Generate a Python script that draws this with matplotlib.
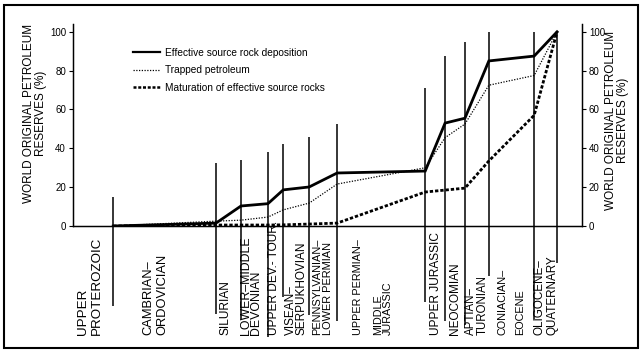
import matplotlib
matplotlib.use("Agg")
import matplotlib.pyplot as plt
from matplotlib.lines import Line2D
from matplotlib.patches import Rectangle

plt.rcParams['font.family'] = ['Liberation Sans', 'DejaVu Sans']

# stage boundaries along the (non-linear) time axis, 0..100 relative scale
boundaries = [7.9, 28.1, 33.0, 38.3, 41.3, 46.4, 51.9, 69.2, 73.1, 77.0, 81.7, 90.6, 95.1]
# cumulative world original petroleum reserves (%) at each boundary
effective = [0, 1.5, 10.3, 11.5, 18.6, 20.1, 27.3, 28.3, 53, 55.5, 85, 87.5, 100]
trapped = [0, 2.5, 3.0, 4.6, 8.3, 11.8, 21.6, 30, 45.5, 52.5, 72.5, 77.5, 100]
maturation = [0, 0.5, 0.5, 0.5, 0.6, 1.0, 1.5, 17.5, 18.5, 19.5, 33.5, 57, 100]
# extent of the boundary rules (upper end above axis, lower end into label area)
rule_top = [15, 32.5, 34, 38, 42, 46, 52.5, 71, 87.5, 95, 100, 100, 100]
rule_bottom = [-41, -45.5, -48, -57, -36.5, -46, -49, -39, -49, -51, -26, -48, -19]

stages = ["UPPER\nPROTEROZOIC", "CAMBRIAN–\nORDOVICIAN", "SILURIAN",
          "LOWER–MIDDLE\nDEVONIAN", "UPPER DEV.- TOUR.", "VISEAN–\nSERPUKHOVIAN",
          "PENNSYLVANIAN–\nLOWER PERMIAN", "UPPER PERMIAN–\n\nMIDDLE\nJURASSIC",
          "UPPER JURASSIC", "NEOCOMIAN", "APTIAN–\nTURONIAN", "CONIACIAN–\n\nEOCENE",
          "OLIGOCENE–\nQUATERNARY"]
# per-label type size, line spacing and small horizontal nudge (as set in the original)
stage_size = [9.6, 9.3, 8.6, 8.9, 8.6, 8.5, 7.9, 7.8, 8.6, 8.5, 8.3, 7.8, 8.4]
stage_spacing = [1.19, 1.23, 1.0, 0.85, 1.0, 0.8, 1.12, 0.97, 1.0, 1.0, 0.92, 0.86, 1.09]
stage_shift = [-0.7, -1.8, -0.5, -0.7, -0.3, 0, -0.2, -1.6, 0.2, 0, 0, 0, 0]
yticks = [0, 20, 40, 60, 80, 100]

W, H = 643, 360
fig = plt.figure(figsize=(W / 100, H / 100), dpi=100)
ax = fig.add_axes([73 / W, (H - 226) / H, (582 - 73) / W, 0.561])
ax.set_xlim(0, 100)
ax.set_ylim(0, 104)
ax.spines['top'].set_visible(False)
for s in ['left', 'right', 'bottom']:
    ax.spines[s].set_linewidth(1.0)
ax.set_xticks([])
ax.set_yticks(yticks)
ax.tick_params(axis='y', direction='out', length=3, width=0.8, labelsize=7, pad=2)

ax2 = ax.twinx()
ax2.set_ylim(0, 104)
ax2.spines['top'].set_visible(False)
ax2.set_yticks(yticks)
ax2.tick_params(axis='y', direction='out', length=3, width=0.8, labelsize=7, pad=2)

ax.vlines(boundaries, rule_bottom, rule_top, colors='black', lw=1.1, clip_on=False, zorder=2)

ax.plot(boundaries, effective, color='black', lw=2.0, zorder=4, solid_joinstyle='miter')
ax.plot(boundaries, trapped, color='black', lw=0.9, ls=(0, (1, 1.2)), zorder=3)
ax.plot(boundaries, maturation, color='black', lw=2.0, ls=(0, (1.2, 0.7)), zorder=4)

edges = [0] + boundaries
for i, lab in enumerate(stages):
    xm = (edges[i] + edges[i + 1]) / 2 + stage_shift[i]
    ax.text(xm, -56, lab, rotation=90, ha='center', va='bottom',
            multialignment='left', fontsize=stage_size[i],
            linespacing=stage_spacing[i], clip_on=False)

handles = [Line2D([], [], color='black', lw=1.6),
           Line2D([], [], color='black', lw=0.9, ls=(0, (1, 1.2))),
           Line2D([], [], color='black', lw=1.8, ls=(0, (1.2, 0.7)))]
labels = ["Effective source rock deposition", "Trapped petroleum",
          "Maturation of effective source rocks"]
ax.legend(handles, labels, loc='upper left', bbox_to_anchor=(133 / W, (H - 48) / H),
          bbox_transform=fig.transFigure, frameon=False, fontsize=7.3,
          handlelength=2.7, handletextpad=0.5, labelspacing=0.72,
          borderpad=0, borderaxespad=0)

ylab = "WORLD ORIGINAL PETROLEUM\nRESERVES (%)"
fig.text(35 / W, (H - 113) / H, ylab, rotation=90, ha='center', va='center',
         multialignment='center', fontsize=8.5, linespacing=1.1)
fig.text(617 / W, (H - 120) / H, ylab, rotation=90, ha='center', va='center',
         multialignment='center', fontsize=8.5, linespacing=1.1)

fig.patches.append(Rectangle((4 / W, 12 / H), 634 / W, 343 / H, transform=fig.transFigure,
                             fill=False, lw=1.5, edgecolor='black'))

fig.savefig("out.png", dpi=100)
